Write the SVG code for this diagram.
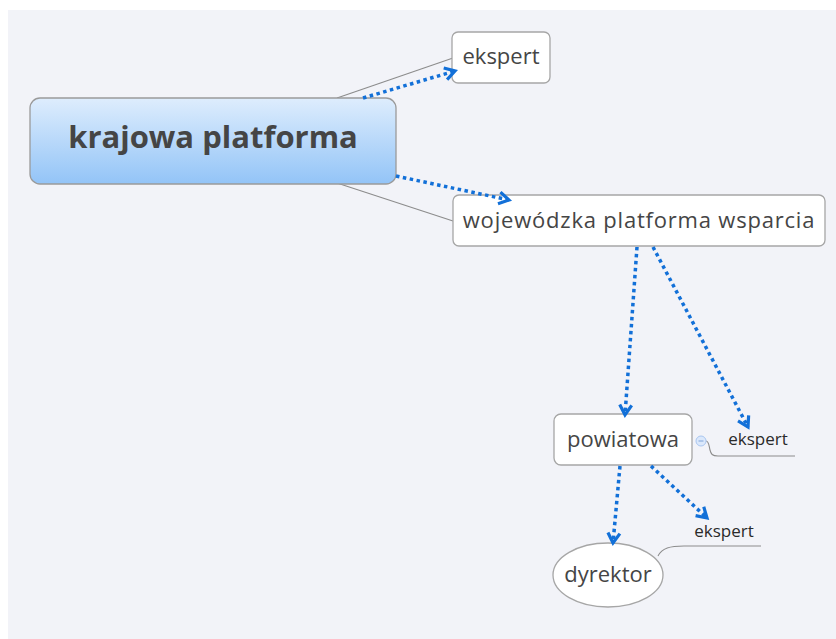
<svg xmlns="http://www.w3.org/2000/svg" width="836" height="639" viewBox="0 0 836 639">
<defs>
<linearGradient id="rootGrad" x1="0" y1="0" x2="0" y2="1">
<stop offset="0" stop-color="#deedfd"/>
<stop offset="1" stop-color="#93c4f7"/>
</linearGradient>
<marker id="arr" viewBox="0 0 16 16" refX="13" refY="8" markerWidth="16" markerHeight="16" markerUnits="userSpaceOnUse" orient="auto">
<path d="M3,2 L13,8 L3,14" fill="none" stroke="#1270d8" stroke-width="3.2"/>
</marker>
</defs>
<style>
.node{fill:#ffffff;stroke:#a6a6a6;stroke-width:1.3}
.t{font-family:"Open Sans","Noto Sans","DejaVu Sans",sans-serif;fill:#454545;text-anchor:middle}
.s{font-family:"Open Sans","Noto Sans","DejaVu Sans",sans-serif;fill:#2a2a2a;text-anchor:middle;font-size:17px}
.branch{fill:none;stroke:#8c8c8c;stroke-width:1.1}
.rel{fill:none;stroke:#1270d8;stroke-width:3.5;stroke-dasharray:3.5 3.5;marker-end:url(#arr)}
</style>
<rect x="0" y="0" width="836" height="639" fill="#ffffff"/>
<rect x="8" y="10" width="828" height="629" fill="#f2f3f8"/>
<g id="branches">
<path class="branch" d="M337,98 L453,58"/>
<path class="branch" d="M337,183 L453,221"/>
<path class="branch" d="M706,441 C709,441 709,446 710,450 C711,454 712,456 718,456 L795,456"/>
<path class="branch" d="M658,556 C662,548 670,546 684,546 L761,546"/>
</g>
<g id="root">
<rect x="30" y="98" width="366" height="86" rx="10" fill="url(#rootGrad)" stroke="#9a9a9a" stroke-width="1.3"/>
<text class="t" x="213" y="148" font-size="31" font-weight="bold">krajowa platforma</text>
</g>
<g id="ekspert1">
<rect class="node" x="452" y="32" width="98" height="51" rx="6"/>
<text class="t" x="501" y="64" font-size="22">ekspert</text>
</g>
<g id="wojewodzka">
<rect class="node" x="453" y="195" width="372" height="51" rx="6"/>
<text class="t" x="639" y="228" font-size="22" letter-spacing="0.8">wojewódzka platforma wsparcia</text>
</g>
<g id="powiatowa">
<rect class="node" x="554" y="414" width="138" height="51" rx="7"/>
<text class="t" x="623" y="447" font-size="22">powiatowa</text>
<circle cx="701" cy="441" r="5" fill="#dbe8fb" stroke="#a9c6f0" stroke-width="1"/>
<path d="M698.5,441 L703.5,441" stroke="#7fa4d8" stroke-width="1"/>
</g>
<g id="ekspert2">
<text class="s" x="758" y="445">ekspert</text>
</g>
<g id="dyrektor">
<ellipse class="node" cx="608" cy="575" rx="55" ry="32"/>
<text class="t" x="608" y="582" font-size="22">dyrektor</text>
</g>
<g id="ekspert3">
<text class="s" x="724" y="537">ekspert</text>
</g>
<g id="connectors">
<path class="rel" d="M363,98 L455,71"/>
<path class="rel" d="M396,176 L509,200"/>
<path class="rel" d="M637,247 L625,415"/>
<path class="rel" d="M653,247 L748,427"/>
<path class="rel" d="M620,466 L613,543"/>
<path class="rel" d="M651,466 L707,518"/>
</g>
</svg>
